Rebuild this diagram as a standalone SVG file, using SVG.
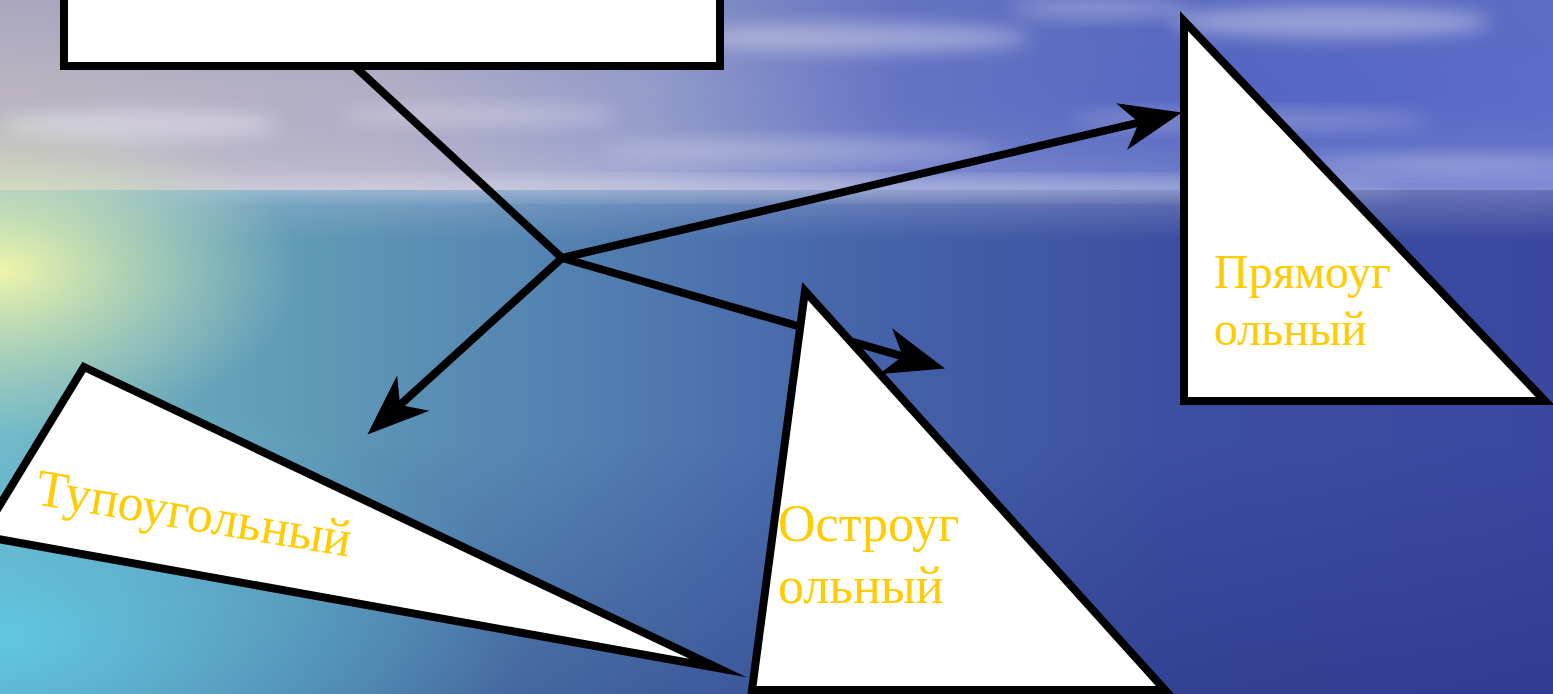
<svg xmlns="http://www.w3.org/2000/svg" width="1553" height="694" viewBox="0 0 1553 694">
<defs>
<linearGradient id="sky" x1="0" y1="0" x2="1" y2="0">
<stop offset="0" stop-color="#bcb4c0"/>
<stop offset="0.25" stop-color="#b2aec6"/>
<stop offset="0.42" stop-color="#949cca"/>
<stop offset="0.58" stop-color="#6474c4"/>
<stop offset="0.8" stop-color="#5466c2"/>
<stop offset="1" stop-color="#5c6cc8"/>
</linearGradient>
<linearGradient id="skyV" x1="0" y1="0" x2="0" y2="1">
<stop offset="0" stop-color="#6070b4" stop-opacity="0.2"/>
<stop offset="0.45" stop-color="#6070b4" stop-opacity="0"/>
<stop offset="0.85" stop-color="#ffffff" stop-opacity="0.12"/>
<stop offset="1" stop-color="#e0e2f0" stop-opacity="0.35"/>
</linearGradient>
<linearGradient id="sea" x1="0" y1="0" x2="1" y2="0">
<stop offset="0" stop-color="#74b6c2"/>
<stop offset="0.15" stop-color="#64a0b8"/>
<stop offset="0.35" stop-color="#5484b2"/>
<stop offset="0.55" stop-color="#4664aa"/>
<stop offset="0.75" stop-color="#3c4fa2"/>
<stop offset="1" stop-color="#3a48a0"/>
</linearGradient>
<linearGradient id="seaV" x1="0" y1="0" x2="0" y2="1">
<stop offset="0" stop-color="#c0c6e0" stop-opacity="0.35"/>
<stop offset="0.1" stop-color="#b0b8d8" stop-opacity="0"/>
<stop offset="0.5" stop-color="#1a2070" stop-opacity="0"/>
<stop offset="1" stop-color="#1a2070" stop-opacity="0.3"/>
</linearGradient>
<radialGradient id="glow" cx="0" cy="270" r="1" gradientUnits="userSpaceOnUse" gradientTransform="translate(0 270) scale(300 170) translate(0 -270)">
<stop offset="0" stop-color="#f6f8a8" stop-opacity="0.95"/>
<stop offset="0.45" stop-color="#dcecb0" stop-opacity="0.55"/>
<stop offset="1" stop-color="#c8e8c0" stop-opacity="0"/>
</radialGradient>
<radialGradient id="cyan" cx="0" cy="640" r="1" gradientUnits="userSpaceOnUse" gradientTransform="translate(0 640) scale(520 260) translate(0 -640)">
<stop offset="0" stop-color="#62d0ea" stop-opacity="0.85"/>
<stop offset="0.5" stop-color="#62c8e4" stop-opacity="0.45"/>
<stop offset="1" stop-color="#62c8e4" stop-opacity="0"/>
</radialGradient>
<filter id="blur" x="-50%" y="-50%" width="200%" height="200%">
<feGaussianBlur stdDeviation="9"/>
</filter>
<marker id="ah" viewBox="0 0 64 52" markerWidth="64" markerHeight="52" refX="18" refY="26" orient="auto" markerUnits="userSpaceOnUse">
<path d="M62,26 L0,2 L18,26 L0,50 Z" fill="#000"/>
</marker>
<style>
.con{fill:none;stroke:#000;stroke-width:8;stroke-linecap:butt}
.shape{fill:#fff;stroke:#000;stroke-width:8;stroke-linejoin:miter;stroke-miterlimit:10}
.lbl{font-family:"Liberation Serif","Times New Roman",serif;fill:#ffcc00}
.cloud{fill:#e8e4f0;filter:url(#blur)}
</style>
</defs>
<g id="background">
<rect x="0" y="0" width="1553" height="200" fill="url(#sky)"/>
<rect x="0" y="0" width="1553" height="200" fill="url(#skyV)"/>
<ellipse class="cloud" cx="860" cy="38" rx="170" ry="14" opacity="0.45"/>
<ellipse class="cloud" cx="1330" cy="22" rx="160" ry="16" opacity="0.45"/>
<ellipse class="cloud" cx="1100" cy="8" rx="90" ry="10" opacity="0.35"/>
<ellipse class="cloud" cx="480" cy="115" rx="140" ry="10" opacity="0.4"/>
<ellipse class="cloud" cx="140" cy="125" rx="140" ry="16" opacity="0.5"/>
<ellipse class="cloud" cx="800" cy="150" rx="200" ry="10" opacity="0.35"/>
<ellipse class="cloud" cx="1250" cy="120" rx="180" ry="9" opacity="0.3"/>
<ellipse class="cloud" cx="1450" cy="165" rx="150" ry="9" opacity="0.35"/>
<rect x="0" y="190" width="1553" height="504" fill="url(#sea)"/>
<rect x="0" y="190" width="1553" height="504" fill="url(#seaV)"/>
<rect x="0" y="380" width="560" height="314" fill="url(#cyan)"/>
<rect x="0" y="90" width="320" height="360" fill="url(#glow)"/>
<ellipse class="cloud" cx="780" cy="188" rx="620" ry="8" opacity="0.45"/>
</g>
<g id="connectors">
<path class="con" d="M350,62 L562,258"/>
<path class="con" d="M562,258 L1139,122.6" marker-end="url(#ah)"/>
<path class="con" d="M562,258 L400,405" marker-end="url(#ah)"/>
<path class="con" d="M562,258 L902.7,356.3" marker-end="url(#ah)"/>
</g>
<g id="box">
<rect class="shape" x="64" y="-20" width="656" height="86"/>
</g>
<g id="tri-obtuse">
<polygon class="shape" points="84,367 718,668 -19,536"/>
<text class="lbl" x="34" y="504" font-size="52" transform="rotate(9.5 34 504)">Тупоугольный</text>
</g>
<g id="tri-acute">
<polygon class="shape" points="805,291 1165,690 752,690"/>
<text class="lbl" font-size="52"><tspan x="778" y="541">Остроуг</tspan><tspan x="778" y="603">ольный</tspan></text>
</g>
<g id="tri-right">
<polygon class="shape" points="1184,21 1545,401 1184,401"/>
<text class="lbl" font-size="48"><tspan x="1214" y="288">Прямоуг</tspan><tspan x="1214" y="345">ольный</tspan></text>
</g>
</svg>
